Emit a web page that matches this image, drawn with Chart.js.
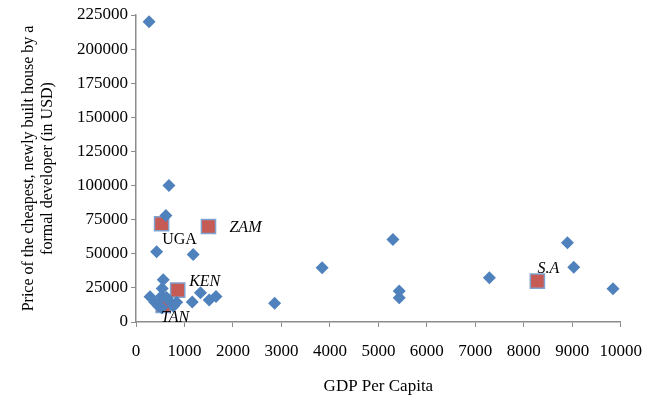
<!DOCTYPE html>
<html>
<head>
<meta charset="utf-8">
<script src="https://cdn.jsdelivr.net/npm/chart.js@4.4.0/dist/chart.umd.min.js"></script>
<style>
  html, body { margin: 0; padding: 0; background: #fff; }
  #wrap { width: 656px; height: 407px; }
</style>
</head>
<body>
<div id="wrap"><canvas id="chart"></canvas></div>
<script>
// GDP per capita (USD) vs price of cheapest formal house (USD)
const otherGdp = [270, 680, 617, 425, 1180, 562, 540, 290, 390, 530, 630, 460, 770, 840, 530, 680,
  1160, 1330, 1510, 1650, 2860, 3840, 5300, 5430, 5430, 7290, 8900, 9030, 9840];
const otherPrice = [220000, 100000, 78000, 51500, 49500, 31000, 24500, 18500, 14500, 19000, 18000, 12000, 11500, 14500, 10500, 15500,
  14600, 21500, 16100, 18600, 13700, 39800, 60500, 22700, 17800, 32500, 58000, 40200, 24400];

const namedCountries = ['UGA', 'ZAM', 'KEN', 'TAN', 'S.A'];
const namedGdp = [528, 1495, 860, 560, 8280];
const namedPrice = [72000, 70000, 23400, 12200, 30000];

const xTicks = [0, 1000, 2000, 3000, 4000, 5000, 6000, 7000, 8000, 9000, 10000];
const yTicks = [0, 25000, 50000, 75000, 100000, 125000, 150000, 175000, 200000, 225000];

const toPoints = (xs, ys) => xs.map((x, i) => ({ x: x, y: ys[i] }));

// label placement relative to the marker (pixels)
const labelOffsets = {
  UGA: { dx: 18, dy: 16, italic: false },
  ZAM: { dx: 37, dy: 1, italic: true },
  KEN: { dx: 27, dy: -8, italic: true },
  TAN: { dx: 12, dy: 12, italic: true },
  'S.A': { dx: 11, dy: -12, italic: true }
};

const countryLabels = {
  id: 'countryLabels',
  afterDatasetsDraw(chart) {
    const meta = chart.getDatasetMeta(1);
    const ctx = chart.ctx;
    ctx.save();
    ctx.fillStyle = '#000';
    ctx.textAlign = 'center';
    ctx.textBaseline = 'middle';
    meta.data.forEach((pt, i) => {
      const name = namedCountries[i];
      const o = labelOffsets[name];
      ctx.font = (o.italic ? 'italic ' : '') + '16px "Liberation Serif"';
      ctx.fillText(name, pt.x + o.dx, pt.y + o.dy);
    });
    ctx.restore();
  }
};

const axisColor = '#8c8c8c';
const tickFont = { family: 'Liberation Serif', size: 17 };

new Chart(document.getElementById('chart'), {
  type: 'scatter',
  data: {
    datasets: [
      {
        data: toPoints(otherGdp, otherPrice),
        pointStyle: 'rectRot',
        pointRadius: 6.5,
        pointHoverRadius: 6.5,
        backgroundColor: '#4F81BD',
        borderColor: '#4F81BD',
        borderWidth: 0
      },
      {
        data: toPoints(namedGdp, namedPrice),
        pointStyle: 'rect',
        pointRadius: 10,
        pointHoverRadius: 10,
        backgroundColor: '#C65A55',
        borderColor: '#7FA3D0',
        borderWidth: 1.5
      }
    ]
  },
  options: {
    responsive: true,
    maintainAspectRatio: false,
    animation: false,
    events: [],
    layout: { padding: { left: 0, right: 33, top: 15, bottom: 0 } },
    plugins: { legend: { display: false }, tooltip: { enabled: false } },
    scales: {
      x: {
        type: 'linear',
        min: 0,
        max: 10000,
        afterBuildTicks: (s) => { s.ticks = xTicks.map(v => ({ value: v })); },
        afterFit: (s) => { s.height = 85; },
        border: { color: axisColor, width: 1.5 },
        grid: { drawOnChartArea: false, color: axisColor, tickLength: 5 },
        ticks: { font: tickFont, color: '#000', padding: 14, maxRotation: 0, callback: (v) => v },
        title: {
          display: true,
          text: 'GDP Per Capita',
          font: { family: 'Liberation Serif', size: 17 },
          color: '#000',
          padding: { top: 0, bottom: 10 }
        }
      },
      y: {
        type: 'linear',
        min: 0,
        max: 225000,
        afterBuildTicks: (s) => { s.ticks = yTicks.map(v => ({ value: v })); },
        afterFit: (s) => { s.width = 136; },
        border: { color: axisColor, width: 1.5 },
        grid: { drawOnChartArea: false, color: axisColor, tickLength: 5 },
        ticks: { font: tickFont, color: '#000', padding: 3, callback: (v) => v },
        title: {
          display: true,
          text: ['Price of the cheapest, newly built house by a', 'formal developer (in USD)'],
          font: { family: 'Liberation Serif', size: 16 },
          color: '#000',
          padding: { top: 19, bottom: 0 }
        }
      }
    }
  },
  plugins: [countryLabels]
});
</script>
</body>
</html>
